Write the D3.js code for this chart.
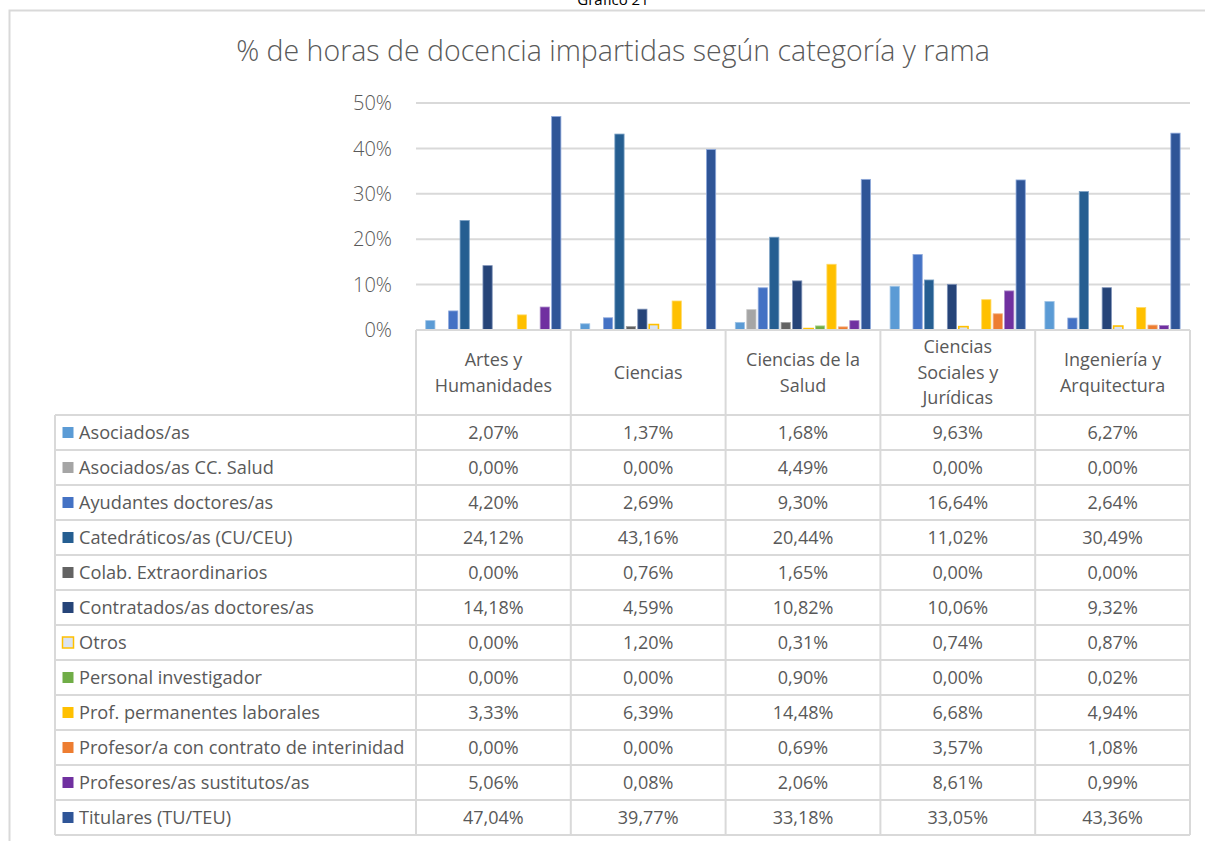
<!DOCTYPE html>
<html>
<head>
<meta charset="utf-8">
<script src="https://cdn.jsdelivr.net/npm/d3@7"></script>
<style>
  body { margin: 0; background: #fff; }
  svg text { font-family: "Open Sans", Lato, sans-serif; }
</style>
</head>
<body>
<svg id="chart" width="1205" height="841"></svg>
<script>
const branches = ["Artes y Humanidades", "Ciencias", "Ciencias de la Salud", "Ciencias Sociales y Jurídicas", "Ingeniería y Arquitectura"];
const branchLines = [["Artes y", "Humanidades"], ["Ciencias"], ["Ciencias de la", "Salud"], ["Ciencias", "Sociales y", "Jurídicas"], ["Ingeniería y", "Arquitectura"]];
const categories = ["Asociados/as", "Asociados/as CC. Salud", "Ayudantes doctores/as", "Catedráticos/as (CU/CEU)", "Colab. Extraordinarios", "Contratados/as doctores/as", "Otros", "Personal investigador", "Prof. permanentes laborales", "Profesor/a con contrato de interinidad", "Profesores/as sustitutos/as", "Titulares (TU/TEU)"];

const asociados      = [2.07, 1.37, 1.68, 9.63, 6.27];
const asociadosSalud = [0.00, 0.00, 4.49, 0.00, 0.00];
const ayudantes      = [4.20, 2.69, 9.30, 16.64, 2.64];
const catedraticos   = [24.12, 43.16, 20.44, 11.02, 30.49];
const colab          = [0.00, 0.76, 1.65, 0.00, 0.00];
const contratados    = [14.18, 4.59, 10.82, 10.06, 9.32];
const otros          = [0.00, 1.20, 0.31, 0.74, 0.87];
const investigador   = [0.00, 0.00, 0.90, 0.00, 0.02];
const permanentes    = [3.33, 6.39, 14.48, 6.68, 4.94];
const interinidad    = [0.00, 0.00, 0.69, 3.57, 1.08];
const sustitutos     = [5.06, 0.08, 2.06, 8.61, 0.99];
const titulares      = [47.04, 39.77, 33.18, 33.05, 43.36];
const yTicks = [0, 10, 20, 30, 40, 50];

const series = [asociados, asociadosSalud, ayudantes, catedraticos, colab, contratados, otros, investigador, permanentes, interinidad, sustitutos, titulares];
const fills   = ["#5b9bd5", "#a5a5a5", "#4472c4", "#255e91", "#636363", "#264478", "#dae3f3", "#70ad47", "#ffc000", "#ed7d31", "#7030a0", "#2f5597"];
const strokes = ["#9dc3e6", "#c9c9c9", "#8faadc", "#7aa0c4", "#a0a0a0", "#7f93b8", "#ffc000", "#a9d18e", "#ffd966", "#f4b183", "#a987c6", "#8faadc"];

const svg = d3.select("#chart");
const gray = "#595959", lineCol = "#d9d9d9";

// outer frame and captions
svg.append("rect").attr("x", 9.5).attr("y", 10.5).attr("width", 1220).attr("height", 860)
  .attr("fill", "none").attr("stroke", lineCol).attr("stroke-width", 2);
svg.append("text").attr("x", 613).attr("y", 5).attr("text-anchor", "middle")
  .attr("font-family", "Lato").attr("font-size", 15).attr("fill", "#000").text("Gráfico 21");
svg.append("text").attr("x", 613).attr("y", 61).attr("text-anchor", "middle")
  .attr("font-family", "Lato").attr("font-size", 28.5).attr("font-weight", 300).attr("fill", gray)
  .text("% de horas de docencia impartidas según categoría y rama");

const plotL = 416, plotR = 1190, plotT = 103, plotB = 330;
const x0 = d3.scaleBand().domain(branches).range([plotL, plotR]);
const x1 = d3.scaleBand().domain(categories).range([0, x0.bandwidth()]).paddingOuter(0.76);
const y = d3.scaleLinear().domain([0, 50]).range([plotB, plotT]);

// gridlines + y labels
svg.append("g").selectAll("line").data(yTicks).join("line")
  .attr("x1", plotL).attr("x2", plotR).attr("y1", d => y(d)).attr("y2", d => y(d))
  .attr("stroke", lineCol).attr("stroke-width", 2);
svg.append("g").selectAll("text").data(yTicks).join("text")
  .attr("x", 392).attr("y", d => y(d)).attr("dy", "0.36em").attr("text-anchor", "end")
  .attr("font-family", "Lato").attr("font-weight", 300)
  .attr("font-size", 20).attr("fill", gray).text(d => d + "%");

// bars
series.forEach((vals, si) => {
  svg.append("g").selectAll("rect").data(vals).join("rect")
    .attr("x", (d, i) => x0(branches[i]) + x1(categories[si]) + 1)
    .attr("width", x1.bandwidth() - 2.2)
    .attr("y", d => y(d))
    .attr("height", d => y(0) - y(d))
    .attr("fill", fills[si])
    .attr("stroke", d => d > 0 ? strokes[si] : "none")
    .attr("stroke-width", si === 6 ? 1.6 : 0.8);
});

// data table
const rowH = 35, headTop = plotB, tableTop = 415;
const tbl = svg.append("g");
tbl.append("line").attr("x1", plotL).attr("x2", plotR).attr("y1", plotB).attr("y2", plotB)
  .attr("stroke", lineCol).attr("stroke-width", 2);
tbl.selectAll(".hl").data(d3.range(categories.length + 1)).join("line")
  .attr("x1", 55).attr("x2", plotR)
  .attr("y1", i => tableTop + i * rowH).attr("y2", i => tableTop + i * rowH)
  .attr("stroke", lineCol).attr("stroke-width", 2);
const vx = branches.map(b => x0(b)).concat([plotR]);
tbl.selectAll(".vl").data(vx).join("line")
  .attr("x1", d => d).attr("x2", d => d).attr("y1", headTop).attr("y2", tableTop + categories.length * rowH)
  .attr("stroke", lineCol).attr("stroke-width", 2);
tbl.append("line").attr("x1", 55).attr("x2", 55).attr("y1", tableTop).attr("y2", tableTop + categories.length * rowH)
  .attr("stroke", lineCol).attr("stroke-width", 2);

// header labels
branchLines.forEach((lines, i) => {
  const cx = x0(branches[i]) + x0.bandwidth() / 2;
  const lh = 25.5, cy = 372.5 - (lines.length - 1) * lh / 2;
  tbl.append("text").attr("text-anchor", "middle").attr("font-size", 18).attr("fill", gray)
    .selectAll("tspan").data(lines).join("tspan")
    .attr("x", cx).attr("y", (d, k) => cy + k * lh).attr("dy", "0.36em").text(d => d);
});

// legend keys + values
const fmt = v => v.toFixed(2).replace(".", ",") + "%";
categories.forEach((c, si) => {
  const cy = tableTop + si * rowH + rowH / 2;
  tbl.append("rect").attr("x", 62.5).attr("y", cy - 5.5).attr("width", 11).attr("height", 11)
    .attr("fill", fills[si]).attr("stroke", si === 6 ? "#ffc000" : "none").attr("stroke-width", 1.5);
  tbl.append("text").attr("x", 79).attr("y", cy).attr("dy", "0.36em")
    .attr("font-size", 18.2).attr("fill", gray).text(c);
  series[si].forEach((v, i) => {
    tbl.append("text").attr("x", x0(branches[i]) + x0.bandwidth() / 2).attr("y", cy).attr("dy", "0.36em")
      .attr("text-anchor", "middle").attr("font-size", 18).attr("fill", gray).text(fmt(v));
  });
});
</script>
</body>
</html>
